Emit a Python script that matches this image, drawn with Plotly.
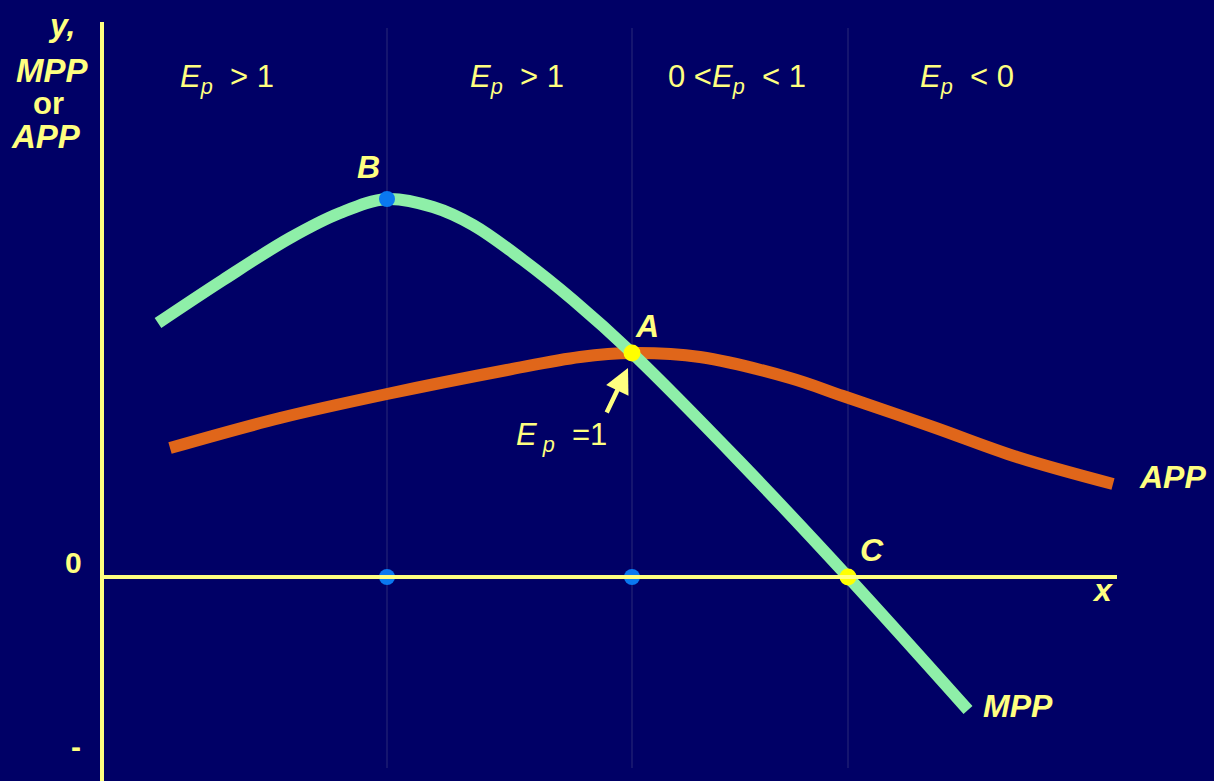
import plotly.graph_objects as go

# Input level (x) and output (y) for the two product curves
mpp_x = [5.6, 12.1, 18.8, 23.8, 28.5, 33.1, 37.1, 42.1, 47.1, 53.0, 63.8, 74.6, 86.6]
mpp_y = [25.4, 29.7, 33.9, 36.4, 37.8, 37.0, 35.2, 31.7, 27.7, 22.4, 11.5, 0.0, -13.3]

app_x = [6.8, 17.8, 28.5, 40.5, 47.8, 53.0, 59.8, 68.8, 74.1, 83.1, 91.5, 101.1]
app_y = [12.9, 15.9, 18.3, 20.7, 22.0, 22.4, 22.0, 19.9, 18.1, 15.0, 12.0, 9.3]

# Key points: B (MPP max), A (APP max, MPP = APP), C (MPP = 0)
pt_b = (28.5, 37.8)
pt_a = (53.0, 22.4)
pt_c = (74.6, 0.0)
stage_x = [28.5, 53.0, 74.6]

# Stage labels
stage_labels = ["<i>E<sub>p</sub></i>  > 1", "<i>E<sub>p</sub></i>  > 1",
                "0 <<i>E<sub>p</sub></i>  < 1", "<i>E<sub>p</sub></i>  < 0"]
stage_label_x = [7.6, 36.6, 56.4, 81.6]

BG = "#000066"
YEL = "#FFFF80"
GREEN = "#8EEFA8"
ORANGE = "#E0661A"
BLUE = "#0A78F0"
FONT = "Liberation Sans, Arial, sans-serif"

fig = go.Figure()

# Stage dividers
for sx in stage_x:
    fig.add_shape(type="line", xref="x", yref="y", x0=sx, x1=sx, y0=-19.1, y1=54.9,
                  line=dict(color="#2A2A78", width=1), layer="below")

# Axes
fig.add_shape(type="line", xref="x", yref="y", x0=0, x1=0, y0=-21, y1=55.5,
              line=dict(color=YEL, width=4))
fig.add_shape(type="line", xref="x", yref="y", x0=0, x1=101.5, y0=0, y1=0,
              line=dict(color=YEL, width=4))

fig.add_trace(go.Scatter(x=app_x, y=app_y, mode="lines",
                         line=dict(color=ORANGE, width=12, shape="spline", smoothing=1.0),
                         hoverinfo="skip"))
fig.add_trace(go.Scatter(x=mpp_x, y=mpp_y, mode="lines",
                         line=dict(color=GREEN, width=12, shape="spline", smoothing=1.0),
                         hoverinfo="skip"))

# Points on the curves and their projections on the x axis
fig.add_trace(go.Scatter(x=[pt_b[0], stage_x[0], stage_x[1]], y=[pt_b[1], 0, 0], mode="markers",
                         marker=dict(color=BLUE, size=16), hoverinfo="skip"))
fig.add_trace(go.Scatter(x=[pt_a[0], pt_c[0]], y=[pt_a[1], pt_c[1]], mode="markers",
                         marker=dict(color="#FFFF00", size=17), hoverinfo="skip"))

ann = []

def txt(x, y, s, size=30, bold=False, italic=False, xanchor="center"):
    if bold:
        s = "<b>" + s + "</b>"
    if italic:
        s = "<i>" + s + "</i>"
    ann.append(dict(x=x, y=y, xref="x", yref="y", text=s, showarrow=False,
                    xanchor=xanchor, yanchor="middle",
                    font=dict(family=FONT, size=size, color=YEL)))

for lx, lab in zip(stage_label_x, stage_labels):
    txt(lx, 49.8, lab, size=31, xanchor="left")

# Axis titles
txt(-4.0, 55.2, "y,", size=32, bold=True, italic=True)
txt(-5.0, 50.7, "MPP", size=33, bold=True, italic=True)
txt(-5.4, 47.4, "or", size=31, bold=True)
txt(-5.6, 44.1, "APP", size=33, bold=True, italic=True)
txt(-2.9, 1.5, "0", size=30, bold=True)
txt(-2.6, -16.9, "-", size=30, bold=True)
txt(100.0, -1.3, "x", size=32, bold=True, italic=True)

# Point and curve labels
txt(26.6, 41.0, "B", size=32, bold=True, italic=True)
txt(54.5, 25.1, "A", size=32, bold=True, italic=True)
txt(77.0, 2.7, "C", size=32, bold=True, italic=True)
txt(107.0, 10.0, "APP", size=32, bold=True, italic=True)
txt(91.6, -12.9, "MPP", size=32, bold=True, italic=True)

# Unit elasticity marker at A
ann.append(dict(x=52.6, y=20.9, ax=50.4, ay=16.3, xref="x", yref="y", axref="x", ayref="y",
                text="", showarrow=True, arrowhead=2, arrowsize=1.1, arrowwidth=4.5,
                arrowcolor=YEL))
txt(41.2, 14.0, "<i>E</i><sub><i> p</i></sub>  =1", size=31, xanchor="left")

fig.update_layout(
    width=1214, height=781,
    margin=dict(l=0, r=0, t=0, b=0),
    paper_bgcolor=BG, plot_bgcolor=BG,
    showlegend=False,
    xaxis=dict(range=[-10.2, 111.2], visible=False, fixedrange=True),
    yaxis=dict(range=[-20.4, 57.7], visible=False, fixedrange=True),
    annotations=ann,
)

fig.write_html("out.html", config=dict(displayModeBar=False))
